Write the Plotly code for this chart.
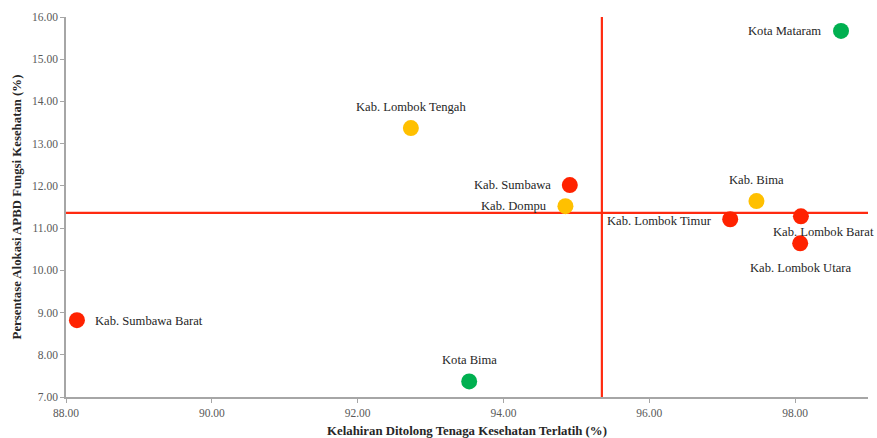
import plotly.graph_objects as go

regions = ["Kota Mataram", "Kab. Lombok Tengah", "Kab. Sumbawa", "Kab. Dompu", "Kab. Bima",
           "Kab. Lombok Timur", "Kab. Lombok Barat", "Kab. Lombok Utara", "Kab. Sumbawa Barat", "Kota Bima"]
persalinan = [98.63, 92.73, 94.91, 94.85, 97.47, 97.11, 98.08, 98.07, 88.15, 93.53]
alokasi = [15.67, 13.37, 12.02, 11.52, 11.64, 11.21, 11.28, 10.64, 8.82, 7.37]
colors = ["#00B050", "#FFC000", "#FF2200", "#FFC000", "#FFC000",
          "#FF2200", "#FF2200", "#FF2200", "#FF2200", "#00B050"]
# label placement: (xanchor, yanchor, xshift, yshift)
label_pos = [("right", "middle", -18, 0), ("center", "bottom", 0, 12), ("right", "middle", -17, 0),
             ("right", "middle", -16, 0), ("center", "bottom", 0, 12), ("right", "middle", -16, -2),
             ("center", "top", 23, -7), ("center", "top", 0, -16), ("left", "middle", 16, -1),
             ("center", "bottom", 0, 12)]
x_mean = 95.35
y_mean = 11.36
x_range = [88, 99]
y_range = [7, 16]

fig = go.Figure()
fig.add_shape(type="line", x0=x_mean, x1=x_mean, y0=y_range[0], y1=y_range[1],
              line=dict(color="#FF2A10", width=2.2), layer="below")
fig.add_shape(type="line", x0=x_range[0], x1=x_range[1], y0=y_mean, y1=y_mean,
              line=dict(color="#FF2A10", width=2.2), layer="below")
fig.add_trace(go.Scatter(x=persalinan, y=alokasi, mode="markers",
                         marker=dict(size=16, color=colors, line=dict(width=0)),
                         hovertext=regions, showlegend=False))
for name, xv, yv, (xa, ya, xs, ys) in zip(regions, persalinan, alokasi, label_pos):
    fig.add_annotation(x=xv, y=yv, text=name, showarrow=False, xanchor=xa, yanchor=ya,
                       xshift=xs, yshift=ys,
                       font=dict(family="Liberation Serif", size=12.6, color="#262626"))

fig.update_layout(
    width=877, height=438,
    margin=dict(l=66, r=9, t=17, b=41),
    paper_bgcolor="white", plot_bgcolor="white",
    font=dict(family="Liberation Serif", color="#404040"),
    xaxis=dict(range=x_range, tickvals=[88, 90, 92, 94, 96, 98], tickformat=".2f",
               automargin=False,
               showgrid=False, zeroline=False, showline=True, linecolor="#A6A6A6", linewidth=1.5,
               ticks="outside", ticklen=4, tickcolor="#A6A6A6",
               tickfont=dict(family="Liberation Serif", size=11.5, color="#595959"),
               title=dict(text="<b>Kelahiran Ditolong Tenaga Kesehatan Terlatih (%)</b>",
                          font=dict(family="Liberation Serif", size=12.8, color="#262626"), standoff=9)),
    yaxis=dict(range=y_range, dtick=1, tickformat=".2f",
               automargin=False,
               showgrid=False, zeroline=False, showline=True, linecolor="#A6A6A6", linewidth=1.5,
               ticks="outside", ticklen=4, tickcolor="#A6A6A6",
               tickfont=dict(family="Liberation Serif", size=11.5, color="#595959"),
               title=dict(text="<b>Persentase Alokasi APBD Fungsi Kesehatan (%)</b>",
                          font=dict(family="Liberation Serif", size=12.8, color="#262626"), standoff=8)),
)
fig.write_html("out.html", config={"displayModeBar": False},
               post_script="document.body.style.margin='0';document.body.style.overflow='hidden';")
